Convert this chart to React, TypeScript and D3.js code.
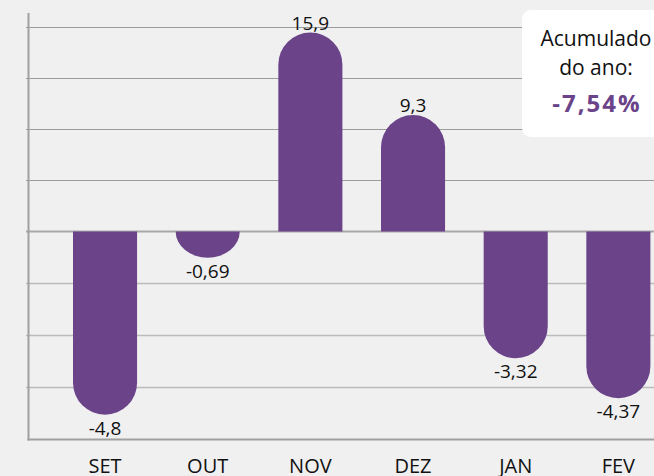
import React from "react";
import * as d3 from "d3";

const months = ["SET", "OUT", "NOV", "DEZ", "JAN", "FEV"];
const values = [-4.8, -0.69, 15.9, 9.3, -3.32, -4.37];
const valueLabels = ["-4,8", "-0,69", "15,9", "9,3", "-3,32", "-4,37"];
const yDomain = [-5.45, 0, 16.3];
const accumLines = ["Acumulado", "do ano:"];
const accumValue = "-7,54%";

const W = 654;
const H = 476;
const PURPLE = "#6a4389";
const FONT = "'Open Sans', 'Noto Sans', sans-serif";

export default function App() {
  const x = d3
    .scaleBand<string>()
    .domain(months)
    .range([53.7, 669.7])
    .paddingInner(0.376)
    .paddingOuter(0.188);
  const y = d3.scaleLinear().domain(yDomain).range([439.5, 231.5, 27.5]);
  const y0 = y(0);
  const bw = x.bandwidth();

  const posGrid = d3.range(1, 5).map((i) => (yDomain[2] * i) / 4);
  const negGrid = d3.range(1, 4).map((i) => (yDomain[0] * i) / 4);

  const barPath = (v: number, cx: number) => {
    const top = y(v);
    const h = Math.abs(top - y0);
    const r = Math.min(bw / 2, h);
    const l = cx - bw / 2;
    const rr = cx + bw / 2;
    if (v >= 0) {
      return `M${l},${y0} V${top + r} A${bw / 2},${r} 0 0 1 ${rr},${top + r} V${y0} Z`;
    }
    return `M${l},${y0} V${top - r} A${bw / 2},${r} 0 0 0 ${rr},${top - r} V${y0} Z`;
  };

  return (
    <svg
      width={W}
      height={H}
      style={{ position: "absolute", left: 0, top: 0, display: "block" }}
      fontFamily={FONT}
    >
      <rect width={W} height={H} fill="#f0f0f0" />
      {posGrid.map((g, i) => (
        <g key={"p" + i}>
          <line x1={26} x2={W} y1={y(g)} y2={y(g)} stroke="#9c9c9c" strokeWidth={1.2} />
        </g>
      ))}
      {negGrid.map((g, i) => (
        <g key={"n" + i}>
          <line x1={26} x2={W} y1={y(g)} y2={y(g)} stroke="#bbbbbb" strokeWidth={1.5} />
        </g>
      ))}
      <line x1={26} x2={W} y1={y0} y2={y0} stroke="#a8a8a8" strokeWidth={2} />
      <line x1={28.5} x2={28.5} y1={13} y2={y(yDomain[0]) + 1} stroke="#a0a0a0" strokeWidth={2} />
      <line x1={27.5} x2={W} y1={y(yDomain[0])} y2={y(yDomain[0])} stroke="#a0a0a0" strokeWidth={2} />

      {values.map((v, i) => {
        const cx = (x(months[i]) as number) + bw / 2;
        return (
          <g key={months[i]}>
            <path d={barPath(v, cx)} fill={PURPLE} />
            <text
              x={cx}
              y={v >= 0 ? y(v) - 3 : y(v) + 20}
              textAnchor="middle"
              fontSize={19}
              fill="#111"
            >
              {valueLabels[i]}
            </text>
            <text x={cx} y={473} textAnchor="middle" fontSize={20} fill="#111">
              {months[i]}
            </text>
          </g>
        );
      })}

      <rect x={522} y={10} width={150} height={127} rx={9} fill="#ffffff" />
      {accumLines.map((t, i) => (
        <text key={t} x={596} y={46 + i * 29} textAnchor="middle" fontSize={21} fill="#111">
          {t}
        </text>
      ))}
      <text
        x={597}
        y={112}
        textAnchor="middle"
        fontSize={24}
        fontWeight={700}
        letterSpacing={2}
        fill={PURPLE}
      >
        {accumValue}
      </text>
    </svg>
  );
}
